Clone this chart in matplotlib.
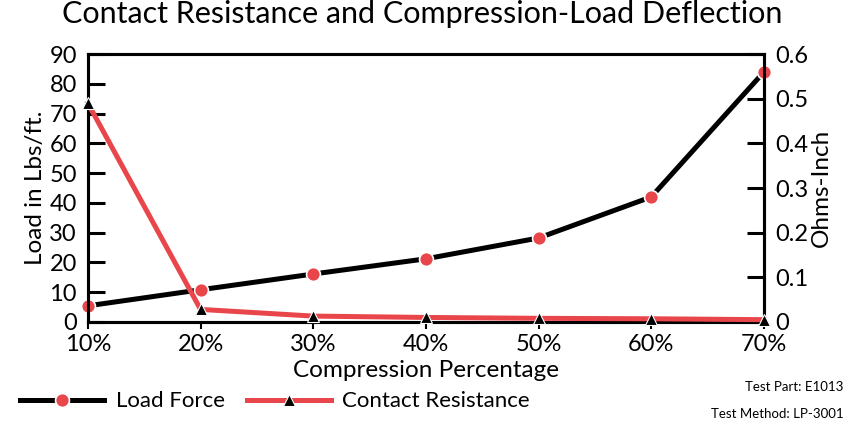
import matplotlib.pyplot as plt

plt.rcParams['font.family'] = ['Lato', 'DejaVu Sans']

# data
compression = [10, 20, 30, 40, 50, 60, 70]
x_labels = ["10%", "20%", "30%", "40%", "50%", "60%", "70%"]
load_force = [5.4, 10.8, 16.1, 21.2, 28.2, 42, 84]
resistance = [0.49, 0.028, 0.013, 0.010, 0.008, 0.007, 0.005]

red = "#e8464a"

fig = plt.figure(figsize=(8.45, 4.23), dpi=100)
ax = fig.add_axes([0.104, 0.239, 0.8, 0.633])
ax2 = ax.twinx()

l1, = ax.plot(compression, load_force, color="black", lw=3.6, marker="o", ms=10,
              mfc=red, mec="white", mew=1.2, clip_on=False, zorder=3)
l2, = ax2.plot(compression, resistance, color=red, lw=3.6, marker="^", ms=9,
               mfc="black", mec="white", mew=0.8, clip_on=False, zorder=3)

ax.set_xlim(10, 70)
ax.set_ylim(0, 90)
ax2.set_ylim(0, 0.6)
ax.set_yticks(range(0, 91, 10))
ax2.set_yticks([0, 0.1, 0.2, 0.3, 0.4, 0.5, 0.6])
ax2.set_yticklabels(["0", "0.1", "0.2", "0.3", "0.4", "0.5", "0.6"])
ax.set_xticks(compression)
ax.set_xticklabels(x_labels)

for a in (ax, ax2):
    for s in a.spines.values():
        s.set_linewidth(2.2)
ax.tick_params(axis="y", direction="in", length=12, width=2.2, labelsize=17, pad=8)
ax2.tick_params(axis="y", direction="in", length=12, width=2.2, labelsize=17, pad=8)
ax.tick_params(axis="x", direction="out", length=5, width=1.5, labelsize=17, pad=4)

ax.set_xlabel("Compression Percentage", fontsize=17.5, labelpad=3)
ax.set_ylabel("Load in Lbs/ft.", fontsize=17.5, labelpad=2)
ax2.set_ylabel("Ohms-Inch", fontsize=17.5, labelpad=2)
fig.suptitle("Contact Resistance and Compression-Load Deflection", fontsize=22, y=1.0)

fig.legend([l1, l2], ["Load Force", "Contact Resistance"], loc="lower left",
           bbox_to_anchor=(0.0, -0.02), ncol=2, frameon=False, fontsize=16,
           handlelength=3.8, columnspacing=1.0, handletextpad=0.5)

fig.text(0.998, 0.075, "Test Part: E1013", fontsize=9.5, ha="right")
fig.text(0.998, 0.012, "Test Method: LP-3001", fontsize=9.5, ha="right")

fig.savefig("out.png", dpi=100)
